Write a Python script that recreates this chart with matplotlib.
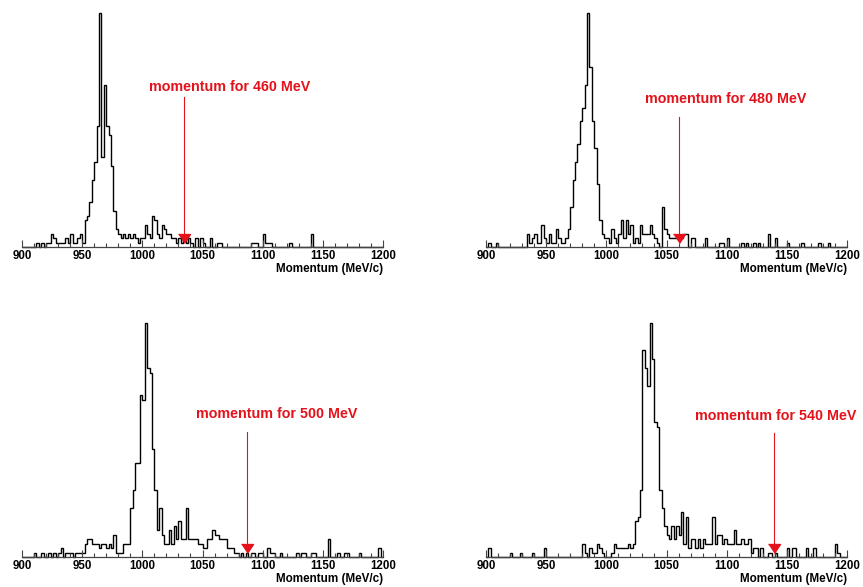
import numpy as np
import matplotlib
matplotlib.use("Agg")
import matplotlib.pyplot as plt
import matplotlib.transforms as mtransforms
from matplotlib.ticker import MultipleLocator

plt.rcParams['font.family'] = ['Liberation Sans', 'DejaVu Sans']
plt.rcParams['font.weight'] = 'bold'

# histogram bins: 900 - 1200 MeV/c, 2 MeV/c wide
bin_lo, bin_hi, bin_w = 900, 1200, 2

energies = [460, 480, 500, 540]
# momentum marked by the arrow (MeV/c)
arrow_p = [1034.5, 1060.5, 1087.0, 1139.5]

counts_460 = [
    0, 0, 0, 0, 0, 0, 1, 0, 1, 0,
    1, 1, 3, 2, 1, 1, 1, 1, 2, 1,
    3, 1, 1, 2, 3, 1, 6, 7, 10, 15,
    19, 27, 52, 20, 36, 27, 25, 18, 8, 4,
    3, 2, 3, 2, 3, 2, 3, 2, 1, 2,
    2, 5, 3, 2, 7, 6, 3, 2, 5, 4,
    3, 3, 2, 2, 1, 2, 1, 2, 1, 2,
    1, 0, 2, 0, 2, 1, 0, 0, 2, 0,
    0, 1, 1, 0, 0, 0, 0, 0, 0, 0,
    0, 0, 0, 0, 0, 1, 1, 1, 0, 0,
    3, 1, 1, 1, 0, 0, 0, 0, 0, 0,
    0, 1, 0, 0, 0, 0, 0, 0, 0, 0,
    3, 0, 0, 0, 0, 0, 0, 0, 0, 0,
    0, 0, 0, 0, 0, 0, 0, 0, 0, 0,
    0, 0, 0, 0, 0, 0, 0, 0, 0, 0,
]

counts_480 = [
    0, 1, 0, 0, 1, 0, 0, 0, 0, 0,
    0, 0, 0, 0, 0, 0, 0, 3, 1, 2,
    3, 1, 1, 5, 2, 1, 3, 1, 1, 4,
    2, 1, 1, 2, 4, 9, 15, 19, 23, 28,
    31, 36, 52, 40, 28, 22, 14, 6, 3, 2,
    2, 1, 4, 2, 1, 3, 6, 2, 6, 3,
    5, 1, 2, 1, 5, 3, 3, 3, 5, 3,
    2, 1, 0, 9, 4, 3, 2, 2, 2, 2,
    2, 2, 3, 3, 0, 2, 2, 0, 0, 0,
    0, 2, 0, 0, 0, 0, 0, 1, 1, 0,
    2, 0, 0, 0, 0, 0, 1, 0, 1, 0,
    0, 1, 0, 1, 0, 0, 0, 3, 0, 0,
    2, 0, 0, 0, 0, 1, 0, 0, 0, 0,
    0, 1, 0, 0, 0, 0, 0, 0, 1, 0,
    0, 0, 1, 0, 0, 0, 0, 0, 0, 0,
]

counts_500 = [
    0, 0, 0, 0, 0, 1, 0, 0, 1, 0,
    0, 1, 0, 1, 0, 1, 2, 0, 1, 1,
    1, 0, 1, 1, 1, 1, 3, 4, 4, 3,
    3, 3, 2, 3, 3, 2, 3, 2, 5, 1,
    1, 1, 3, 3, 3, 11, 15, 21, 21, 36,
    35, 52, 42, 41, 24, 15, 6, 11, 5, 3,
    3, 6, 3, 7, 4, 8, 4, 4, 11, 4,
    4, 4, 4, 3, 3, 2, 2, 4, 4, 6,
    5, 5, 4, 4, 4, 2, 2, 2, 1, 1,
    0, 1, 0, 1, 0, 1, 1, 0, 1, 1,
    0, 0, 2, 1, 1, 0, 0, 1, 0, 0,
    0, 0, 0, 0, 1, 0, 1, 1, 0, 0,
    1, 1, 0, 0, 0, 0, 0, 4, 0, 0,
    0, 1, 0, 0, 1, 1, 0, 0, 0, 0,
    1, 0, 0, 0, 0, 0, 0, 0, 2, 0,
]

counts_540 = [
    0, 2, 0, 0, 0, 0, 0, 0, 0, 0,
    1, 0, 0, 0, 1, 0, 0, 0, 0, 1,
    0, 0, 0, 0, 2, 0, 0, 0, 0, 0,
    0, 0, 0, 0, 0, 0, 0, 0, 0, 0,
    3, 1, 0, 2, 1, 1, 3, 2, 1, 0,
    0, 0, 1, 3, 2, 2, 2, 2, 2, 3,
    2, 3, 8, 9, 15, 46, 42, 38, 52, 44,
    30, 29, 15, 11, 7, 5, 4, 7, 4, 7,
    5, 10, 3, 9, 2, 4, 4, 2, 4, 2,
    4, 3, 3, 3, 9, 3, 5, 5, 3, 4,
    3, 3, 3, 6, 3, 3, 4, 3, 3, 4,
    1, 2, 2, 0, 2, 0, 0, 1, 1, 0,
    1, 0, 0, 0, 0, 2, 0, 2, 2, 0,
    0, 0, 0, 2, 0, 0, 2, 0, 0, 0,
    0, 0, 0, 0, 0, 3, 1, 0, 0, 0,
]

all_counts = [counts_460, counts_480, counts_500, counts_540]

# layout (pixels of the 863x587 picture)
W, H = 863, 587
panel_px = [(22, 247), (486, 247), (22, 557), (486, 557)]  # (x of 900, y of baseline)
axis_w, axis_h = 361, 234
text_x = [1072.5, 1099.5, 1111.5, 1141.0]
text_y = [0.667, 0.615, 0.594, 0.585]
line_top = [0.641, 0.556, 0.534, 0.530]

red = '#e3121b'
tri = [(-0.6, 0.5), (0.6, 0.5), (0.0, -0.4)]

edges = np.arange(bin_lo, bin_hi + bin_w, bin_w)

fig = plt.figure(figsize=(W / 100, H / 100), dpi=100)

for k in range(4):
    x0, yb = panel_px[k]
    ax = fig.add_axes([x0 / W, (H - yb) / H, axis_w / W, axis_h / H])
    counts = np.array(all_counts[k])
    ax.stairs(counts, edges, color='black', lw=1.0, clip_on=False)
    ax.set_xlim(bin_lo, bin_hi)
    ax.set_ylim(0, counts.max())

    for s in ['top', 'left', 'right']:
        ax.spines[s].set_visible(False)
    ax.spines['bottom'].set_linewidth(0.9)
    ax.spines['bottom'].set_color('#444444')
    ax.set_yticks([])
    ax.xaxis.set_major_locator(MultipleLocator(50))
    ax.xaxis.set_minor_locator(MultipleLocator(10))
    ax.tick_params(axis='x', which='major', direction='in', length=5,
                   width=0.8, pad=2.0, labelsize=8.3, color='#444444')
    ax.tick_params(axis='x', which='minor', direction='in', length=2.8,
                   width=0.8, color='#444444')
    for lab in ax.get_xticklabels():
        lab.set_fontweight('bold')

    ax.text(1.0, -0.068, 'Momentum (MeV/c)', transform=ax.transAxes,
            ha='right', va='top', fontsize=8.4, fontweight='bold')

    # arrow showing the expected momentum
    trans = mtransforms.blended_transform_factory(ax.transData, ax.transAxes)
    p = arrow_p[k]
    ax.plot([p, p], [line_top[k], 0.04], color=red, lw=0.8, transform=trans,
            clip_on=False)
    ax.plot([p], [0.034], marker=tri, ms=8.6, color=red, mec=red,
            transform=trans, clip_on=False)
    ax.text(text_x[k], text_y[k], f'momentum for {energies[k]} MeV',
            transform=trans, ha='center', va='baseline', color=red,
            fontsize=10.3, fontweight='bold')

fig.savefig('out.png', dpi=100)
